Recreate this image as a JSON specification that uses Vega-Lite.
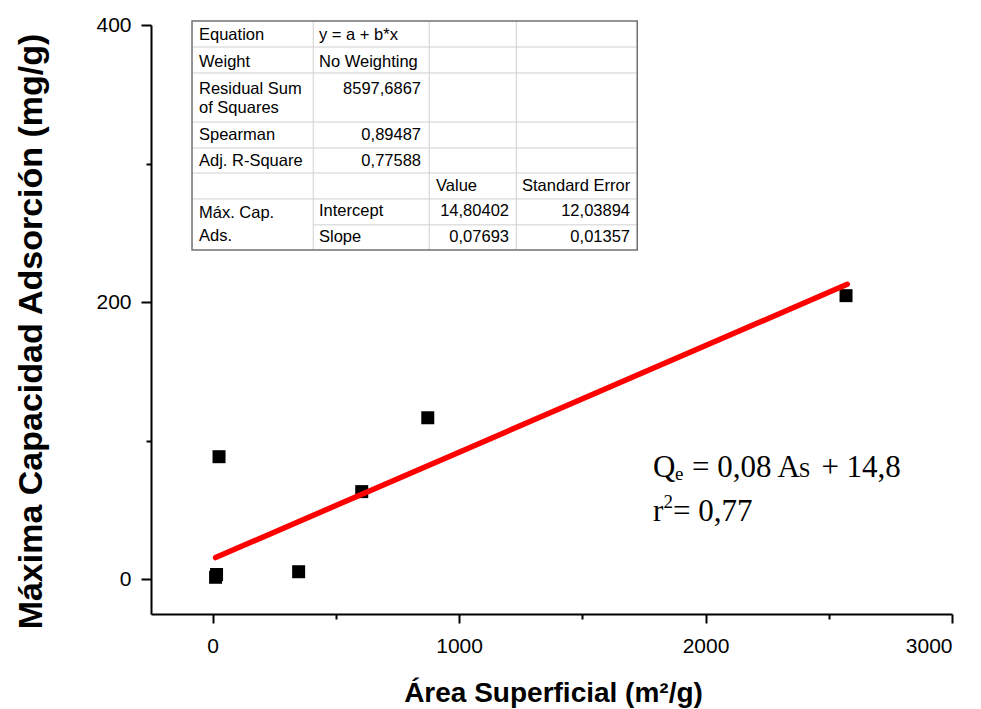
{
  "$schema": "https://vega.github.io/schema/vega-lite/v6.json",
  "width": 801,
  "height": 589,
  "autosize": {"type": "none"},
  "padding": {"left": 151, "top": 25, "right": 29, "bottom": 95},
  "background": "white",
  "config": {
    "view": {"stroke": null},
    "axis": {
      "grid": false,
      "domainColor": "black",
      "domainWidth": 2,
      "tickColor": "black",
      "tickWidth": 2,
      "labelFont": "Liberation Sans",
      "labelFontSize": 21,
      "labelColor": "black",
      "titleFont": "Liberation Sans",
      "titleFontWeight": "bold",
      "titleColor": "black"
    }
  },
  "datasets": {
    "points": [
      {"x": 12, "y": 1.5},
      {"x": 16, "y": 3.5},
      {"x": 26, "y": 88.5},
      {"x": 349, "y": 5.5},
      {"x": 605, "y": 63.3},
      {"x": 873, "y": 116.6},
      {"x": 2570, "y": 204.7}
    ],
    "fit": [
      {"x": 12, "y": 15.727},
      {"x": 2575, "y": 212.899}
    ],
    "one": [{}],
    "grid": [
      {"x": 408.3, "x2": 408.3, "y": 402.9, "y2": 237.7},
      {"x": 879.0, "x2": 879.0, "y": 402.9, "y2": 237.7},
      {"x": 1232.0, "x2": 1232.0, "y": 402.9, "y2": 237.7},
      {"x": -83.6, "x2": 1722.9, "y": 384.1, "y2": 384.1},
      {"x": -83.6, "x2": 1722.9, "y": 365.4, "y2": 365.4},
      {"x": -83.6, "x2": 1722.9, "y": 330.0, "y2": 330.0},
      {"x": -83.6, "x2": 1722.9, "y": 311.3, "y2": 311.3},
      {"x": -83.6, "x2": 1722.9, "y": 293.2, "y2": 293.2},
      {"x": -83.6, "x2": 1722.9, "y": 274.5, "y2": 274.5},
      {"x": 408.3, "x2": 1722.9, "y": 255.8, "y2": 255.8}
    ],
    "cellsLeft": [
      {"x": -55.2, "y": 392.8, "t": "Equation"},
      {"x": -55.2, "y": 373.5, "t": "Weight"},
      {"x": -55.2, "y": 353.8, "t": "Residual Sum"},
      {"x": -55.2, "y": 339.9, "t": "of Squares"},
      {"x": -55.2, "y": 320.6, "t": "Spearman"},
      {"x": -55.2, "y": 301.9, "t": "Adj. R-Square"},
      {"x": -55.2, "y": 264.1, "t": "Máx. Cap."},
      {"x": -55.2, "y": 247.7, "t": "Ads."},
      {"x": 431.7, "y": 392.8, "t": "y = a + b*x"},
      {"x": 431.7, "y": 373.5, "t": "No Weighting"},
      {"x": 906.4, "y": 283.8, "t": "Value"},
      {"x": 1255.4, "y": 283.8, "t": "Standard Error"},
      {"x": 431.7, "y": 265.8, "t": "Intercept"},
      {"x": 431.7, "y": 247.2, "t": "Slope"}
    ],
    "cellsRight": [
      {"x": 845.6, "y": 353.8, "t": "8597,6867"},
      {"x": 845.6, "y": 320.6, "t": "0,89487"},
      {"x": 845.6, "y": 301.9, "t": "0,77588"},
      {"x": 1202.6, "y": 265.8, "t": "14,80402"},
      {"x": 1693.6, "y": 265.8, "t": "12,03894"},
      {"x": 1202.6, "y": 247.2, "t": "0,07693"},
      {"x": 1693.6, "y": 247.2, "t": "0,01357"}
    ]
  },
  "layer": [
    {
      "data": {"name": "points"},
      "mark": {"type": "point", "shape": "square", "filled": true, "size": 169, "color": "black", "opacity": 1},
      "encoding": {
        "x": {
          "field": "x", "type": "quantitative",
          "scale": {"domain": [-250, 3000], "nice": false, "zero": false},
          "axis": {
            "title": "Área Superficial (m²/g)",
            "values": [0, 500, 1000, 1500, 2000, 2500, 3000],
            "format": "d",
            "labelExpr": "datum.value % 1000 === 0 ? datum.label : ''",
            "tickSize": {"condition": {"test": "datum.value % 1000 === 0", "value": 9}, "value": 5},
            "labelPadding": 12,
            "titleFontSize": 28,
            "titleBaseline": "alphabetic",
            "titleX": 402,
            "titleY": 87
          }
        },
        "y": {
          "field": "y", "type": "quantitative",
          "scale": {"domain": [-25, 400], "nice": false, "zero": false},
          "axis": {
            "title": "Máxima Capacidad Adsorción (mg/g)",
            "values": [0, 100, 200, 300, 400],
            "format": "d",
            "labelExpr": "datum.value % 200 === 0 ? datum.label : ''",
            "tickSize": {"condition": {"test": "datum.value % 200 === 0", "value": 10}, "value": 5},
            "labelPadding": 10,
            "titleFontSize": 34,
            "titleAngle": -90,
            "titleBaseline": "alphabetic",
            "titleX": -110,
            "titleY": 306
          }
        }
      }
    },
    {
      "data": {"name": "fit"},
      "mark": {"type": "line", "color": "#ff0000", "strokeWidth": 5.5, "strokeCap": "round"},
      "encoding": {
        "x": {"field": "x", "type": "quantitative"},
        "y": {"field": "y", "type": "quantitative"}
      }
    },
    {
      "data": {"name": "one"},
      "mark": {"type": "rect", "fill": "white"},
      "encoding": {
        "x": {"datum": -83.6, "type": "quantitative"},
        "x2": {"datum": 1722.9},
        "y": {"datum": 402.9, "type": "quantitative"},
        "y2": {"datum": 237.7}
      }
    },
    {
      "data": {"name": "grid"},
      "mark": {"type": "rule", "color": "#d0d0d0", "strokeWidth": 1},
      "encoding": {
        "x": {"field": "x", "type": "quantitative"},
        "x2": {"field": "x2"},
        "y": {"field": "y", "type": "quantitative"},
        "y2": {"field": "y2"}
      }
    },
    {
      "data": {"name": "one"},
      "mark": {"type": "rect", "filled": false, "stroke": "#707070", "strokeWidth": 1.5},
      "encoding": {
        "x": {"datum": -83.6, "type": "quantitative"},
        "x2": {"datum": 1722.9},
        "y": {"datum": 402.9, "type": "quantitative"},
        "y2": {"datum": 237.7}
      }
    },
    {
      "data": {"name": "cellsLeft"},
      "mark": {"type": "text", "align": "left", "baseline": "middle", "font": "Liberation Sans", "fontSize": 16.5, "color": "black"},
      "encoding": {
        "x": {"field": "x", "type": "quantitative"},
        "y": {"field": "y", "type": "quantitative"},
        "text": {"field": "t"}
      }
    },
    {
      "data": {"name": "cellsRight"},
      "mark": {"type": "text", "align": "right", "baseline": "middle", "font": "Liberation Sans", "fontSize": 16.5, "color": "black"},
      "encoding": {
        "x": {"field": "x", "type": "quantitative"},
        "y": {"field": "y", "type": "quantitative"},
        "text": {"field": "t"}
      }
    },
    {
      "data": {"name": "one"},
      "mark": {"type": "text", "align": "left", "baseline": "alphabetic", "font": "Liberation Serif", "fontSize": 31, "color": "black", "text": "Q"},
      "encoding": {"x": {"datum": 1786.9, "type": "quantitative"}, "y": {"datum": 73.5, "type": "quantitative"}}
    },
    {
      "data": {"name": "one"},
      "mark": {"type": "text", "align": "left", "baseline": "alphabetic", "font": "Liberation Serif", "fontSize": 19, "color": "black", "text": "e"},
      "encoding": {"x": {"datum": 1876.0, "type": "quantitative"}, "y": {"datum": 72.0, "type": "quantitative"}}
    },
    {
      "data": {"name": "one"},
      "mark": {"type": "text", "align": "left", "baseline": "alphabetic", "font": "Liberation Serif", "fontSize": 31, "color": "black", "text": "= 0,08 A"},
      "encoding": {"x": {"datum": 1945.1, "type": "quantitative"}, "y": {"datum": 73.5, "type": "quantitative"}}
    },
    {
      "data": {"name": "one"},
      "mark": {"type": "text", "align": "left", "baseline": "alphabetic", "font": "Liberation Serif", "fontSize": 21, "color": "black", "text": "S"},
      "encoding": {"x": {"datum": 2378.0, "type": "quantitative"}, "y": {"datum": 73.5, "type": "quantitative"}}
    },
    {
      "data": {"name": "one"},
      "mark": {"type": "text", "align": "left", "baseline": "alphabetic", "font": "Liberation Serif", "fontSize": 31, "color": "black", "text": "+ 14,8"},
      "encoding": {"x": {"datum": 2470.0, "type": "quantitative"}, "y": {"datum": 73.5, "type": "quantitative"}}
    },
    {
      "data": {"name": "one"},
      "mark": {"type": "text", "align": "left", "baseline": "alphabetic", "font": "Liberation Serif", "fontSize": 31, "color": "black", "text": "r"},
      "encoding": {"x": {"datum": 1786.9, "type": "quantitative"}, "y": {"datum": 42.1, "type": "quantitative"}}
    },
    {
      "data": {"name": "one"},
      "mark": {"type": "text", "align": "left", "baseline": "alphabetic", "font": "Liberation Serif", "fontSize": 19, "color": "black", "text": "2"},
      "encoding": {"x": {"datum": 1829.5, "type": "quantitative"}, "y": {"datum": 51.5, "type": "quantitative"}}
    },
    {
      "data": {"name": "one"},
      "mark": {"type": "text", "align": "left", "baseline": "alphabetic", "font": "Liberation Serif", "fontSize": 31, "color": "black", "text": "= 0,77"},
      "encoding": {"x": {"datum": 1868.0, "type": "quantitative"}, "y": {"datum": 42.1, "type": "quantitative"}}
    }
  ]
}
